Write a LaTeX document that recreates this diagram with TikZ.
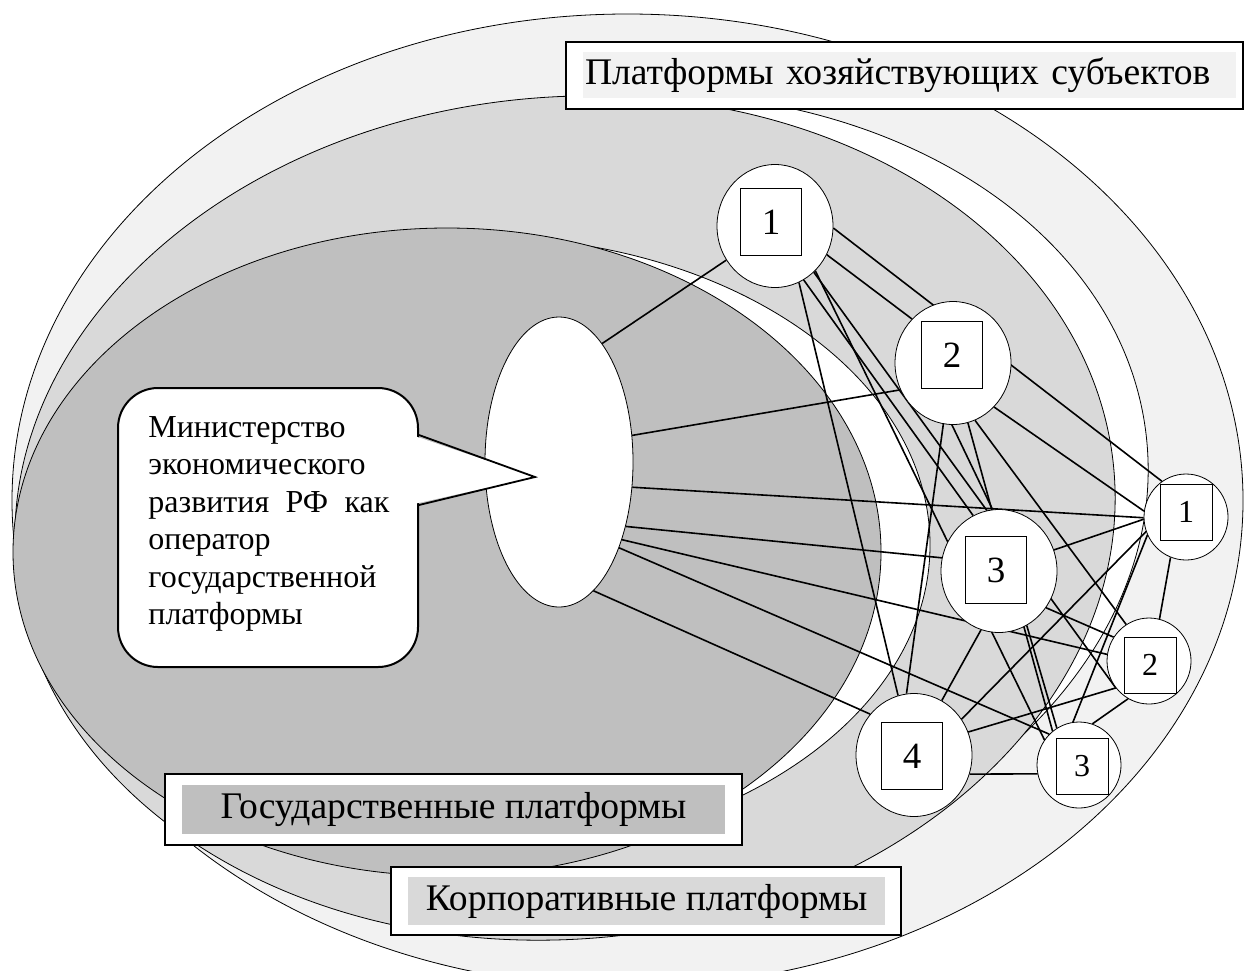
\documentclass[tikz,border=0pt]{standalone}
\usepackage{fontspec}
\setmainfont{Liberation Serif}
\usetikzlibrary{shapes.geometric}
\definecolor{pale}{HTML}{F2F2F2}
\definecolor{midg}{HTML}{D9D9D9}
\definecolor{darkg}{HTML}{BFBFBF}
\pgfdeclarelayer{shapes}
\pgfdeclarelayer{links}
\pgfsetlayers{shapes,links,main}

\begin{document}
\begin{tikzpicture}[x=0.5pt, y=-0.5pt, line width=0.8pt,
        ring/.style={ellipse,draw,fill=white,inner sep=0pt,minimum width=58pt,minimum height=61.5pt},
        smallring/.style={ellipse,draw,fill=white,inner sep=0pt,minimum width=42pt,minimum height=43pt},
        numbox/.style={rectangle,draw,fill=white,inner sep=0pt,minimum width=30.5pt,minimum height=33.5pt,font=\fontsize{18.5}{20}\selectfont},
        smallbox/.style={rectangle,draw,fill=white,inner sep=0pt,minimum width=26pt,minimum height=28pt,font=\fontsize{16}{18}\selectfont},
        frame/.style={rectangle,draw,fill=white,inner sep=0pt,line width=1pt},
        tag/.style={rectangle,inner sep=0pt,font=\fontsize{18.8}{20}\selectfont},
        link/.style={line width=0.8pt}]
        \useasboundingbox (0,0) rectangle (1245,970);
        % уровни платформ
        \begin{pgfonlayer}{shapes}
        \fill[white] (0,0) rectangle (1245,970);
        \draw[fill=pale]  (627.5,500.5) ellipse [x radius=615.5, y radius=486.5];
        \draw[fill=white,rotate around={7:(600,500)}] (600,500) ellipse [x radius=550, y radius=405];
        \draw[fill=midg,rotate around={5:(565,518)}]  (565,518) ellipse [x radius=551, y radius=421];
        \draw[fill=white] (480,545) ellipse [x radius=450, y radius=308];
        \draw[fill=darkg] (447,552) ellipse [x radius=434, y radius=324];
        \end{pgfonlayer}
        % оператор и выноска
        \node[ellipse,draw,fill=white,inner sep=0pt,minimum width=74pt,minimum height=145pt] (minis) at (559,462) {};
        \node[rectangle,rounded corners=20pt,draw,fill=white,line width=1pt,minimum width=150pt,minimum height=139.5pt] (callout) at (268,527.5) {};
        \fill[white] (416,436.5) -- (535,477) -- (416,503.5) -- cycle;
        \draw[line width=0.9pt] (callout.east |- 0,435) -- (535,477) -- (callout.east |- 0,505);
        \node[anchor=base west,inner sep=0pt,text width=120.5pt,align=left,
              font=\fontsize{16}{18.75}\selectfont] (mintext) at (148,437)
              {Министерство\\экономического\\\makebox[120.5pt][s]{развития\hfill РФ\hfill как}\\оператор\\государственной\\платформы};
        % корпоративные платформы
        \node[ring] (n1) at (775,226) {};
        \node[numbox] (n1box) at (771,222) {1};
        \node[ring] (n2) at (953,363) {};
        \node[numbox] (n2box) at (952,355) {2};
        \node[ring] (n3) at (999,571) {};
        \node[numbox] (n3box) at (996,570) {3};
        \node[ring] (n4) at (914,755) {};
        \node[numbox] (n4box) at (912,756) {4};
        % платформы хозяйствующих субъектов
        \node[smallring] (m1) at (1186,517) {};
        \node[smallbox] (m1box) at (1186,512) {1};
        \node[smallring] (m2) at (1149,661) {};
        \node[smallbox] (m2box) at (1150,665) {2};
        \node[smallring] (m3) at (1079,765) {};
        \node[smallbox] (m3box) at (1082,766) {3};
        % подписи
        \node[frame,minimum width=338.5pt,minimum height=33.5pt] (topframe) at (904.5,75.5) {};
        \node[tag,fill=pale,minimum height=23pt,text width=324.5pt,inner xsep=1pt,align=left] (toptag) at (909.5,75) {Платформы хозяйствующих субъектов};
        \node[frame,minimum width=288.5pt,minimum height=35.5pt] (govframe) at (453.5,809.5) {};
        \node[tag,fill=darkg,minimum width=271.5pt,minimum height=24.5pt] (govtag) at (453.5,809.5) {Государственные платформы};
        \node[frame,minimum width=255pt,minimum height=34pt] (corpframe) at (646,901) {};
        \node[tag,fill=midg,minimum width=238.5pt,minimum height=24pt] (corptag) at (646.5,901) {Корпоративные платформы};
        % связи
        \begin{pgfonlayer}{links}
        \draw[link] (minis.70)  -- (n1.215);
        \draw[link] (minis.20)  -- (n2.207);
        \draw[link] (minis.341) -- (m1.181);
        \draw[link] (minis.316) -- (n3.167);
        \draw[link] (minis.309) -- (m2.171);
        \draw[link] (minis.305) -- (m3.134);
        \draw[link] (minis.285) -- (n4.137);
        \draw[link] (n1.358) -- (m1.124);
        \draw[link] (n1.331) -- (n2.133);
        \draw[link] (n1.293) -- (n4.105);
        \draw[link] (n1.298) -- (n3.115);
        \draw[link] (n1.312) -- (m3.144);
        \draw[link] (n1.310) -- (m2.220);
        \draw[link] (n2.313) -- (m1.172);
        \draw[link] (n2.261) -- (n4.97);
        \draw[link] (n2.269) -- (n3.96);
        \draw[link] (n2.284) -- (m3.128);
        \draw[link] (n2.291) -- (m2.122);
        \draw[link] (n3.253) -- (n4.63);
        \draw[link] (n3.21)  -- (m1.183);
        \draw[link] (n3.322) -- (m2.146);
        \draw[link] (n3.297) -- (m3.121);
        \draw[link] (n4.37)  -- (m1.200);
        \draw[link] (n4.23)  -- (m2.219);
        \draw[link] (n4.341) -- (m3.192);
        \draw[link] (m1.249) -- (m2.76);
        \draw[link] (m1.205) -- (m3.98);
        \draw[link] (m2.241) -- (m3.72);
        \end{pgfonlayer}
    \end{tikzpicture}
\end{document}
